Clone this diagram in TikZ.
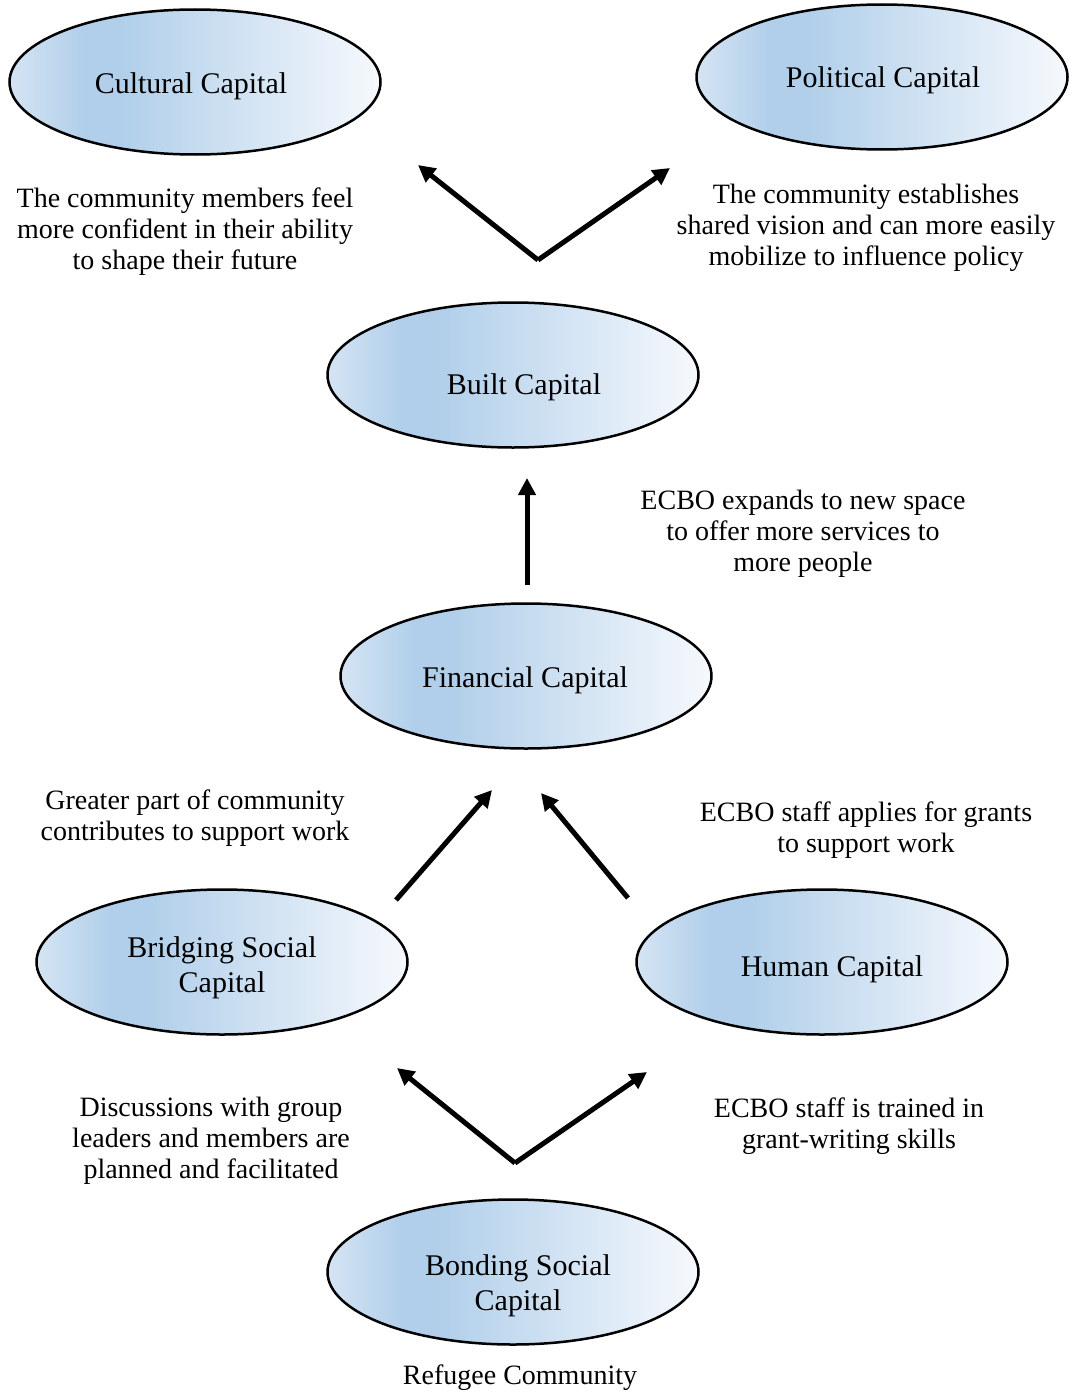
\documentclass[tikz,border=0pt]{standalone}
\usepackage{fontspec}
\setmainfont{Liberation Serif}
\usepackage{xcolor}
\usetikzlibrary{arrows.meta,positioning,shapes.geometric}
\definecolor{capL}{HTML}{D5E4F3}
\definecolor{capD}{HTML}{B1CFEA}
\definecolor{capR}{HTML}{F6F9FD}
\pgfdeclarehorizontalshading{capshade}{100bp}{color(0bp)=(capL); color(25bp)=(capL);
  color(35bp)=(capD); color(40bp)=(capD); color(75bp)=(capR); color(100bp)=(capR)}
% text placed off centre inside an ellipse
\newcommand\captxt[3]{\kern#1\raisebox{-#2}[\height][\depth]{\begin{tabular}{@{}c@{}}#3\end{tabular}}\kern-#1}

\begin{document}
\begin{tikzpicture}[x=1pt, y=-1pt, >={Triangle[length=17pt,width=17pt]},
  capital/.style={ellipse, draw=black, line width=2.5pt, shading=capshade,
    minimum width=371pt, minimum height=145pt, inner sep=0pt, align=center,
    font=\fontsize{30}{35}\selectfont},
  note/.style={align=center, font=\fontsize{28}{31}\selectfont},
  flow/.style={->, line width=5pt}]
  \useasboundingbox (0,0) rectangle (1068,1397);
  % capitals
  \node[capital] (cult) at (195,82)   {\captxt{-4pt}{4pt}{Cultural Capital}};
  \node[capital] (poli) at (882,77)   {\captxt{1pt}{3pt}{Political Capital}};
  \node[capital] (built) at (513,375) {\captxt{11pt}{12pt}{Built Capital}};
  \node[capital] (fin) at (526,676)   {\captxt{-1pt}{4pt}{Financial Capital}};
  \node[capital] (bridge) at (222,962) {\captxt{0pt}{6pt}{Bridging Social\\Capital}};
  \node[capital] (human) at (822,962) {\captxt{10pt}{7pt}{Human Capital}};
  \node[capital] (bond) at (513,1272) {\captxt{5pt}{14pt}{Bonding Social\\Capital}};
  % arrow ends
  \coordinate (topV) at (538,260);
  \coordinate (topL) at (418,165);
  \coordinate (topR) at (670,168);
  \coordinate (midB) at (527,585);
  \coordinate (midT) at (527,478);
  \coordinate (finL) at (492,790);
  \coordinate (finR) at (541,793);
  \coordinate (brT) at (396,900);
  \coordinate (huT) at (628,898);
  \coordinate (botV) at (515,1163);
  \coordinate (botL) at (397,1068);
  \coordinate (botR) at (647,1072);
  \draw[flow] (topV) -- (topL);
  \draw[flow] (topV) -- (topR);
  \draw[flow] (midB) -- (midT);
  \draw[flow] (brT) -- (finL);
  \draw[flow] (huT) -- (finR);
  \draw[flow] (botV) -- (botL);
  \draw[flow] (botV) -- (botR);
  % notes
  \node[note] (n1) at (185,232) {The community members feel\\more confident in their ability\\to shape their future};
  \node[note] (n2) at (866,228) {The community establishes\\shared vision and can more easily\\mobilize to influence policy};
  \node[note] (n3) at (803,534) {ECBO expands to new space\\to offer more services to\\more people};
  \node[note] (n4) at (195,818) {Greater part of community\\contributes to support work};
  \node[note] (n5) at (866,830) {ECBO staff applies for grants\\to support work};
  \node[note] (n6) at (211,1141) {Discussions with group\\leaders and members are\\planned and facilitated};
  \node[note] (n7) at (849,1126) {ECBO staff is trained in\\grant-writing skills};
  \node[note] (refu) at (520,1378) {Refugee Community};
\end{tikzpicture}
\end{document}
